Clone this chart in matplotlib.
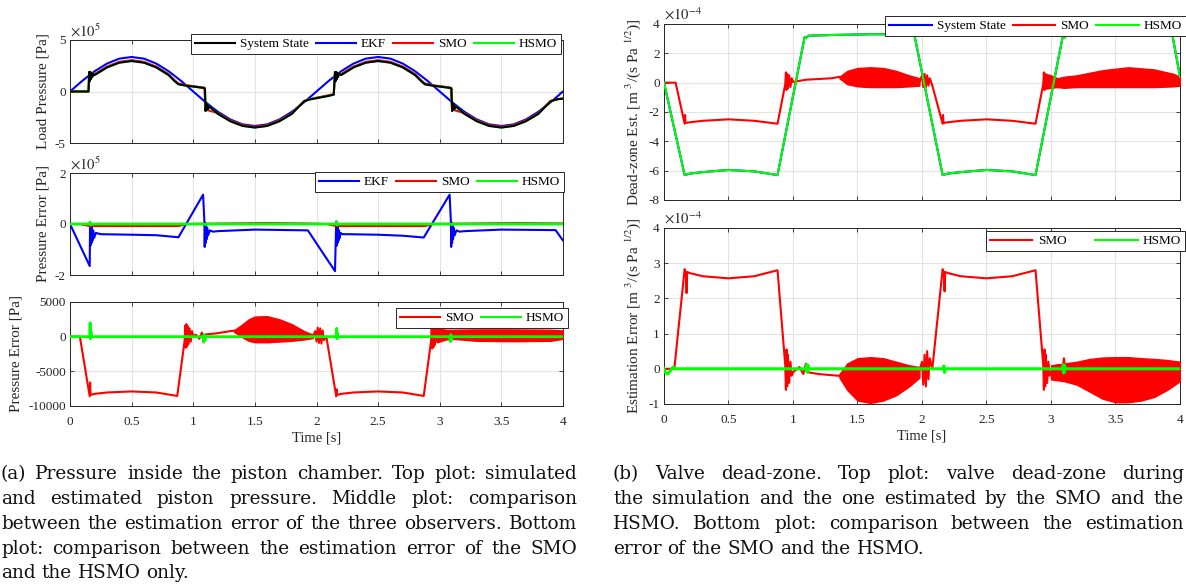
import numpy as np
import matplotlib
matplotlib.use('Agg')
import matplotlib.pyplot as plt
from matplotlib.lines import Line2D

plt.rcParams['font.family'] = ['Liberation Serif', 'DejaVu Serif']
plt.rcParams['mathtext.fontset'] = 'stix'
plt.rcParams['axes.unicode_minus'] = False

W, H = 1186, 587

# ------------------------------------------------------------------ data
XTICKS = [0, 0.5, 1, 1.5, 2, 2.5, 3, 3.5, 4]
XTICK_LABELS = ['0', '0.5', '1', '1.5', '2', '2.5', '3', '3.5', '4']

# (a) top : load pressure  [x1e5 Pa]
T_EKF_LOAD = [0.0, 0.1, 0.2, 0.3, 0.4, 0.5, 0.6, 0.7, 0.8, 0.9, 1.0,
              1.1, 1.2, 1.3, 1.4, 1.5, 1.6, 1.7, 1.8, 1.9, 2.0,
              2.1, 2.2, 2.3, 2.4, 2.5, 2.6, 2.7, 2.8, 2.9, 3.0,
              3.1, 3.2, 3.3, 3.4, 3.5, 3.6, 3.7, 3.8, 3.9, 4.0]
EKF_LOAD = [0.0, 1.04, 1.97, 2.71, 3.19, 3.35, 3.19, 2.71, 1.97, 1.04, 0.0,
            -1.04, -1.97, -2.71, -3.19, -3.35, -3.19, -2.71, -1.97, -1.04, 0.0,
            1.04, 1.97, 2.71, 3.19, 3.35, 3.19, 2.71, 1.97, 1.04, 0.0,
            -1.04, -1.97, -2.71, -3.19, -3.35, -3.19, -2.71, -1.97, -1.04, 0.0]

STATE_LOAD = [(0, 0), (0.15, 0), (0.155, 1.9), (0.16, 1.0), (0.165, 1.9), (0.17, 1.2),
              (0.175, 1.8), (0.18, 1.4), (0.19, 1.7), (0.2, 1.6), (0.3, 2.34), (0.4, 2.8),
              (0.5, 2.96), (0.6, 2.8), (0.7, 2.34), (0.8, 1.6), (0.85, 1.0), (0.88, 0.7),
              (0.95, 0.55), (1.0, 0.48), (1.08, 0.35), (1.095, 0.3), (1.1, -1.9), (1.105, -1.1),
              (1.11, -1.8), (1.115, -1.3), (1.12, -1.7), (1.13, -1.45), (1.15, -1.65),
              (1.2, -2.17), (1.3, -2.88), (1.4, -3.34), (1.5, -3.5), (1.6, -3.34), (1.7, -2.88),
              (1.8, -2.17), (1.85, -1.55), (1.9, -0.95), (1.95, -0.75), (2.0, -0.65),
              (2.1, -0.42), (2.14, -0.3), (2.15, 1.9), (2.155, 1.0), (2.16, 1.9), (2.165, 1.2),
              (2.17, 1.8), (2.175, 1.4), (2.18, 1.7), (2.2, 1.6), (2.3, 2.34), (2.4, 2.8),
              (2.5, 2.96), (2.6, 2.8), (2.7, 2.34), (2.8, 1.6), (2.85, 1.0), (2.88, 0.7),
              (2.95, 0.55), (3.0, 0.48), (3.08, 0.35), (3.095, 0.3), (3.1, -1.9), (3.105, -1.1),
              (3.11, -1.8), (3.115, -1.3), (3.12, -1.7), (3.13, -1.45), (3.15, -1.65),
              (3.2, -2.17), (3.3, -2.88), (3.4, -3.34), (3.5, -3.5), (3.6, -3.34), (3.7, -2.88),
              (3.8, -2.17), (3.85, -1.55), (3.9, -0.95), (3.95, -0.75), (4.0, -0.7)]
SMO_LOAD = [(0, 0), (0.15, 0), (0.16, 1.75), (0.2, 1.7), (0.3, 2.42), (0.4, 2.88),
            (0.5, 3.04), (0.6, 2.88), (0.7, 2.42), (0.8, 1.68), (0.85, 1.08), (0.88, 0.78),
            (0.95, 0.6), (1.0, 0.52), (1.09, 0.38), (1.1, -1.75), (1.2, -2.1), (1.3, -2.8),
            (1.4, -3.26), (1.5, -3.42), (1.6, -3.26), (1.7, -2.8), (1.8, -2.1), (1.85, -1.5),
            (1.9, -0.9), (2.0, -0.6), (2.14, -0.26), (2.15, 1.75), (2.2, 1.7), (2.3, 2.42),
            (2.4, 2.88), (2.5, 3.04), (2.6, 2.88), (2.7, 2.42), (2.8, 1.68), (2.85, 1.08),
            (2.88, 0.78), (2.95, 0.6), (3.0, 0.52), (3.09, 0.38), (3.1, -1.75), (3.2, -2.1),
            (3.3, -2.8), (3.4, -3.26), (3.5, -3.42), (3.6, -3.26), (3.7, -2.8), (3.8, -2.1),
            (3.85, -1.5), (3.9, -0.9), (4.0, -0.65)]
HSMO_LOAD = STATE_LOAD

# (a) middle : pressure error  [x1e5 Pa]
EKF_ERR = [(0, 0), (0.16, -1.65), (0.163, 0.05), (0.166, -0.85), (0.17, -0.05), (0.174, -0.75),
           (0.178, -0.15), (0.182, -0.65), (0.188, -0.25), (0.195, -0.55), (0.21, -0.35),
           (0.25, -0.4), (0.5, -0.42), (0.7, -0.44), (0.88, -0.52), (1.08, 1.15), (1.09, 0.12),
           (1.093, -0.9), (1.097, 0.05), (1.1, -0.75), (1.104, -0.05), (1.108, -0.6),
           (1.113, -0.15), (1.12, -0.45), (1.135, -0.25), (1.16, -0.3), (1.2, -0.28),
           (1.5, -0.22), (1.93, -0.25), (2.15, -1.85), (2.16, 0.1), (2.163, -0.85),
           (2.166, -0.05), (2.17, -0.75), (2.174, -0.15), (2.178, -0.65), (2.182, -0.25),
           (2.188, -0.55), (2.195, -0.35), (2.21, -0.4), (2.25, -0.4), (2.5, -0.42),
           (2.7, -0.46), (2.87, -0.53), (3.08, 1.15), (3.09, 0.12), (3.093, -0.9),
           (3.097, 0.05), (3.1, -0.75), (3.104, -0.05), (3.108, -0.6), (3.113, -0.15),
           (3.12, -0.45), (3.135, -0.25), (3.16, -0.3), (3.2, -0.28), (3.5, -0.22),
           (3.94, -0.24), (4.0, -0.65)]
SMO_ERR = [(0, 0), (0.08, 0), (0.16, -0.08), (0.88, -0.08), (0.95, 0), (1.3, 0.02), (1.6, 0.04),
           (1.9, 0.02), (2.08, 0), (2.16, -0.08), (2.88, -0.08), (2.95, 0), (3.3, 0.02),
           (3.6, 0.04), (4.0, 0.02)]
HSMO_ERR = [(0, 0), (0.16, 0), (0.162, 0.08), (0.165, -0.02), (0.2, 0), (1.09, 0), (1.1, -0.03),
            (1.12, 0), (2.16, 0), (2.162, 0.08), (2.165, -0.02), (2.2, 0), (3.09, 0),
            (3.1, -0.03), (3.12, 0), (4, 0)]

# (a) bottom : SMO / HSMO pressure error [Pa]
SMO_ERR2 = [(0, 0), (0.08, 0), (0.16, -8600), (0.163, -6600), (0.167, -8400), (0.2, -8250),
            (0.3, -8050), (0.5, -7900), (0.7, -8050), (0.87, -8550), (0.93, -600),
            (0.935, 1600), (0.94, -1600), (0.945, 1800), (0.95, -1400), (0.955, 1500),
            (0.96, -1100), (0.97, 1200), (0.98, -700), (0.99, 800), (1.0, 0), (1.02, 300),
            (1.05, -300), (1.07, 600), (1.08, -400), (1.09, 300), (1.2, 500), (1.3, 800),
            (1.35, 900), (1.97, 0), (1.99, 800), (2.0, -700), (2.01, 1300), (2.02, -900),
            (2.03, 1200), (2.04, -1000), (2.05, 900), (2.06, -500), (2.08, 0), (2.16, -8600),
            (2.163, -7600), (2.167, -8400), (2.2, -8250), (2.3, -8050), (2.5, -7900),
            (2.7, -8050), (2.87, -8550), (2.93, -600), (2.935, 1600), (2.94, -1700),
            (2.945, 2000), (2.95, -1500), (2.955, 1800), (2.96, -1200), (2.97, 1400),
            (2.98, -800), (2.99, 1000), (3.0, 0), (3.05, 300), (3.1, 100), (3.5, 200),
            (4.0, 200)]
SMO_BAND1_T = [1.33, 1.4, 1.45, 1.5, 1.6, 1.7, 1.8, 1.9, 1.97]
SMO_BAND1_HI = [900, 1800, 2500, 2900, 2950, 2500, 1800, 800, 300]
SMO_BAND1_LO = [700, -100, -600, -800, -800, -700, -600, -400, -200]
SMO_BAND2_T = [2.98, 3.05, 3.1, 3.3, 3.6, 3.9, 4.0]
SMO_BAND2_HI = [1200, 1000, 1000, 1050, 1050, 1000, 900]
SMO_BAND2_LO = [-800, -400, -300, -600, -650, -600, -300]
HSMO_ERR2 = [(0, 0), (0.16, 0), (0.163, 2000), (0.166, -300), (0.17, 800), (0.175, 0),
             (1.08, 0), (1.085, -800), (1.09, 300), (1.095, -500), (1.1, 0), (2.16, 0),
             (2.163, 1200), (2.166, -300), (2.17, 500), (2.175, 0), (3.08, 0), (3.085, -700),
             (3.09, 300), (3.095, -500), (3.1, 0), (4, 0)]

# (b) top : dead-zone estimate [x1e-4]
HSMO_DZ = [(0, 0), (0.16, -6.3), (0.2, -6.2), (0.3, -6.1), (0.5, -5.95), (0.7, -6.05),
           (0.88, -6.3), (1.09, 3.1), (1.1, 3.05), (1.12, 3.2), (1.3, 3.25), (1.6, 3.3),
           (1.94, 3.3), (2.16, -6.3), (2.2, -6.2), (2.3, -6.1), (2.5, -5.95), (2.7, -6.05),
           (2.88, -6.3), (3.09, 3.1), (3.1, 3.05), (3.12, 3.2), (3.3, 3.25), (3.6, 3.3),
           (3.94, 3.3), (4.0, 0.4)]
STATE_DZ = HSMO_DZ
SMO_DZ = [(0, 0), (0.09, 0), (0.16, -2.8), (0.163, -2.2), (0.167, -2.75), (0.2, -2.7),
          (0.3, -2.6), (0.5, -2.5), (0.7, -2.6), (0.88, -2.8), (0.94, -0.1), (0.945, 0.7),
          (0.95, -0.5), (0.955, 0.6), (0.96, -0.4), (0.97, 0.5), (0.98, -0.3), (0.99, 0.3),
          (1.0, 0.05), (1.1, 0.2), (1.2, 0.25), (1.3, 0.3), (1.36, 0.4), (1.98, 0.0),
          (2.0, 0.5), (2.01, -0.3), (2.02, 0.6), (2.03, -0.3), (2.04, 0.5), (2.05, -0.2),
          (2.06, 0.3), (2.08, -0.2), (2.16, -2.8), (2.163, -2.2), (2.167, -2.75), (2.2, -2.7),
          (2.3, -2.6), (2.5, -2.5), (2.7, -2.6), (2.88, -2.8), (2.94, -0.1), (2.945, 0.7),
          (2.95, -0.5), (2.955, 0.6), (2.96, -0.4), (2.97, 0.5), (2.98, -0.3), (2.99, 0.3),
          (3.0, 0.05), (3.5, 0.3), (4.0, 0.1)]
SMO_DZ_BAND1_T = [1.36, 1.42, 1.5, 1.6, 1.7, 1.8, 1.9, 1.98]
SMO_DZ_BAND1_HI = [0.4, 0.8, 1.0, 1.05, 1.0, 0.8, 0.5, 0.3]
SMO_DZ_BAND1_LO = [0.3, -0.1, -0.25, -0.3, -0.3, -0.3, -0.25, -0.2]
SMO_DZ_BAND2_T = [2.96, 3.0, 3.05, 3.1, 3.2, 3.4, 3.6, 3.8, 3.95, 4.0]
SMO_DZ_BAND2_HI = [0.6, 0.5, 0.3, 0.4, 0.5, 0.85, 1.05, 0.9, 0.6, 0.4]
SMO_DZ_BAND2_LO = [-0.4, -0.35, -0.3, -0.35, -0.3, -0.3, -0.3, -0.3, -0.25, -0.2]

# (b) bottom : estimation error [x1e-4]
SMO_DZ_ERR = [(0, 0), (0.08, 0), (0.16, 2.83), (0.17, 2.7), (0.175, 2.15), (0.18, 2.75),
              (0.2, 2.72), (0.3, 2.63), (0.5, 2.57), (0.7, 2.63), (0.88, 2.8), (0.94, 0.1),
              (0.945, -0.6), (0.95, 0.55), (0.955, -0.5), (0.96, 0.4), (0.97, -0.4),
              (0.98, 0.2), (0.99, -0.2), (1.0, -0.1), (1.05, 0.05), (1.08, -0.15), (1.1, 0.15),
              (1.12, -0.1), (1.2, -0.15), (1.36, -0.2), (1.98, -0.05), (2.0, 0.2),
              (2.01, -0.45), (2.02, 0.4), (2.03, -0.5), (2.04, 0.5), (2.05, -0.3), (2.06, 0.3),
              (2.08, 0.0), (2.16, 2.83), (2.17, 2.7), (2.175, 2.2), (2.18, 2.75), (2.2, 2.72),
              (2.3, 2.63), (2.5, 2.57), (2.7, 2.63), (2.88, 2.8), (2.94, 0.1), (2.945, -0.6),
              (2.95, 0.55), (2.955, -0.5), (2.96, 0.4), (2.97, -0.4), (2.98, 0.2),
              (2.99, -0.2), (3.0, -0.1), (3.05, 0.1), (3.08, -0.3), (3.1, 0.3), (3.12, -0.2),
              (3.2, -0.1), (3.5, -0.2), (4.0, -0.1)]
SMO_ERR_BAND1_T = [1.36, 1.42, 1.5, 1.6, 1.7, 1.8, 1.9, 1.98]
SMO_ERR_BAND1_HI = [-0.15, 0.15, 0.3, 0.33, 0.3, 0.2, 0.1, 0.05]
SMO_ERR_BAND1_LO = [-0.25, -0.6, -0.9, -0.97, -0.9, -0.75, -0.5, -0.25]
SMO_ERR_BAND2_T = [3.0, 3.1, 3.2, 3.3, 3.4, 3.5, 3.6, 3.7, 3.8, 3.9, 4.0]
SMO_ERR_BAND2_HI = [0.1, 0.15, 0.2, 0.28, 0.32, 0.33, 0.33, 0.3, 0.28, 0.25, 0.2]
SMO_ERR_BAND2_LO = [-0.3, -0.35, -0.45, -0.65, -0.85, -0.95, -0.95, -0.9, -0.8, -0.6, -0.35]
HSMO_DZ_ERR = [(0, 0), (0.01, -0.1), (0.03, -0.15), (0.05, -0.05), (0.07, 0.05), (0.09, 0.0),
               (1.1, 0), (1.105, 0.12), (1.11, -0.1), (1.115, 0.1), (1.12, 0), (2.16, 0),
               (2.17, 0.08), (2.175, -0.1), (2.18, 0), (3.09, 0), (3.095, 0.12), (3.1, -0.12),
               (3.105, 0.1), (3.11, 0), (4, 0)]

CAPTION_A = ["(a) Pressure inside the piston chamber. Top plot: simulated",
             "and estimated piston pressure.  Middle plot: comparison",
             "between the estimation error of the three observers. Bottom",
             "plot: comparison between the estimation error of the SMO",
             "and the HSMO only."]
CAPTION_B = ["(b) Valve dead-zone.  Top plot:  valve dead-zone during",
             "the simulation and the one estimated by the SMO and the",
             "HSMO. Bottom plot: comparison between the estimation",
             "error of the SMO and the HSMO."]

BLUE, RED, GREEN, BLACK = '#0000ff', '#ff0000', '#00ff00', '#000000'
AXC = '#262626'

# ------------------------------------------------------------------ figure
fig = plt.figure(figsize=(W / 100, H / 100), dpi=100)


def add_ax(l, t, r, b):
    return fig.add_axes([l / W, 1 - b / H, (r - l) / W, (b - t) / H])


def style(ax, yticks, ylim, xlabels):
    ax.set_xlim(0, 4)
    ax.set_ylim(*ylim)
    ax.set_xticks(XTICKS)
    ax.set_yticks(yticks)
    ax.grid(True, color='#e3e3e3', lw=0.8)
    ax.set_axisbelow(True)
    ax.tick_params(direction='in', length=3, top=True, right=True, labelsize=9.5,
                   colors=AXC, width=0.6, pad=3)
    ax.tick_params(axis='x', pad=7)
    for s in ax.spines.values():
        s.set_linewidth(0.7)
        s.set_color(AXC)
    if xlabels:
        ax.set_xticklabels(XTICK_LABELS)
        ax.set_xlabel('Time [s]', fontsize=10.5, color=AXC, labelpad=3)
    else:
        ax.set_xticklabels([])


def xy(pairs):
    return [p[0] for p in pairs], [p[1] for p in pairs]


def legend(ax, handles, labels, right_px, top_px, colsp=0.55, hl=3.2):
    leg = ax.legend(handles, labels, loc='upper right',
                    bbox_to_anchor=(right_px / W, 1 - top_px / H),
                    bbox_transform=fig.transFigure, ncol=len(labels), fontsize=9.5,
                    frameon=True, fancybox=False, edgecolor=AXC, framealpha=1,
                    borderaxespad=0, handlelength=hl, handletextpad=0.4,
                    columnspacing=colsp, borderpad=0.3)
    leg.get_frame().set_linewidth(0.7)
    leg.set_zorder(20)
    return leg


def expo(ax, txt):
    ax.text(0.0, 1.005, txt, transform=ax.transAxes, fontsize=10.5, ha='left',
            va='bottom', color=AXC)


LW = 1.5
H_STATE = Line2D([], [], color=BLACK, lw=LW)
H_EKF = Line2D([], [], color=BLUE, lw=LW)
H_SMO = Line2D([], [], color=RED, lw=LW)
H_HSMO = Line2D([], [], color=GREEN, lw=LW)
H_STATE_B = Line2D([], [], color=BLUE, lw=LW)

# ---- (a) top
ax1 = add_ax(70, 40, 563, 143)
ax1.plot(T_EKF_LOAD, EKF_LOAD, color=BLUE, lw=LW, zorder=3)
ax1.plot(*xy(SMO_LOAD), color=RED, lw=LW, zorder=4)
ax1.plot(*xy(HSMO_LOAD), color=GREEN, lw=LW, zorder=5)
ax1.plot(*xy(STATE_LOAD), color=BLACK, lw=LW, zorder=6)
style(ax1, [-5, 0, 5], (-5, 5), False)
ax1.set_ylabel('Load Pressure [Pa]', fontsize=11, color=AXC)
expo(ax1, r'$\times10^{5}$')
legend(ax1, [H_STATE, H_EKF, H_SMO, H_HSMO], ['System State', 'EKF', 'SMO', 'HSMO'], 561, 34,
       hl=3.0)

# ---- (a) middle
ax2 = add_ax(70, 173, 563, 275)
ax2.plot(*xy(EKF_ERR), color=BLUE, lw=LW, zorder=3)
ax2.plot(*xy(SMO_ERR), color=RED, lw=LW, zorder=4)
ax2.plot(*xy(HSMO_ERR), color=GREEN, lw=2.0, zorder=5)
style(ax2, [-2, 0, 2], (-2, 2), False)
ax2.set_ylabel('Pressure Error [Pa]', fontsize=11, color=AXC)
expo(ax2, r'$\times10^{5}$')
legend(ax2, [H_EKF, H_SMO, H_HSMO], ['EKF', 'SMO', 'HSMO'], 564, 172, hl=3.0)

# ---- (a) bottom
ax3 = add_ax(70, 302, 563, 406)
ax3.plot(*xy(SMO_ERR2), color=RED, lw=LW, zorder=3)
ax3.fill_between(SMO_BAND1_T, SMO_BAND1_LO, SMO_BAND1_HI, color=RED, lw=1, zorder=3)
ax3.fill_between(SMO_BAND2_T, SMO_BAND2_LO, SMO_BAND2_HI, color=RED, lw=1, zorder=3)
ax3.plot(*xy(HSMO_ERR2), color=GREEN, lw=2.0, zorder=5)
style(ax3, [-10000, -5000, 0, 5000], (-10000, 5000), True)
ax3.set_ylabel('Pressure Error [Pa]', fontsize=11, color=AXC)
legend(ax3, [H_SMO, H_HSMO], ['SMO', 'HSMO'], 568, 308, hl=3.0)

# ---- (b) top
ax4 = add_ax(664, 24, 1180, 200)
ax4.plot(*xy(STATE_DZ), color=BLUE, lw=LW, zorder=3)
ax4.plot(*xy(SMO_DZ), color=RED, lw=LW, zorder=4)
ax4.fill_between(SMO_DZ_BAND1_T, SMO_DZ_BAND1_LO, SMO_DZ_BAND1_HI, color=RED, lw=1, zorder=4)
ax4.fill_between(SMO_DZ_BAND2_T, SMO_DZ_BAND2_LO, SMO_DZ_BAND2_HI, color=RED, lw=1, zorder=4)
ax4.plot(*xy(HSMO_DZ), color=GREEN, lw=LW, zorder=5)
style(ax4, [-8, -6, -4, -2, 0, 2, 4], (-8, 4), False)
ax4.set_ylabel(r'Dead-zone Est. [m $^{3}$/(s Pa $^{1/2}$)]', fontsize=11, color=AXC)
expo(ax4, r'$\times10^{-4}$')
legend(ax4, [H_STATE_B, H_SMO, H_HSMO], ['System State', 'SMO', 'HSMO'], 1186, 16)

# ---- (b) bottom
ax5 = add_ax(664, 228, 1180, 404)
ax5.plot(*xy(SMO_DZ_ERR), color=RED, lw=LW, zorder=3)
ax5.fill_between(SMO_ERR_BAND1_T, SMO_ERR_BAND1_LO, SMO_ERR_BAND1_HI, color=RED, lw=1, zorder=3)
ax5.fill_between(SMO_ERR_BAND2_T, SMO_ERR_BAND2_LO, SMO_ERR_BAND2_HI, color=RED, lw=1, zorder=3)
ax5.plot(*xy(HSMO_DZ_ERR), color=GREEN, lw=2.2, zorder=5)
style(ax5, [-1, 0, 1, 2, 3, 4], (-1, 4), True)
ax5.set_ylabel(r'Estimation Error [m $^{3}$/(s Pa $^{1/2}$)]', fontsize=11, color=AXC)
expo(ax5, r'$\times10^{-4}$')
legend(ax5, [H_SMO, H_HSMO], ['SMO', 'HSMO'], 1185, 231, colsp=2.2)

# ------------------------------------------------------------------ captions
renderer = fig.canvas.get_renderer()
CAP_FS = 13.3
CAP_FONT = ['DejaVu Serif']
BASELINES = [479, 504, 529, 554, 578.5]


def caption_line(text, x0, x1, ybase, justify):
    words = text.split()
    objs = [fig.text(0, 1 - ybase / H, w, fontsize=CAP_FS, family=CAP_FONT, ha='left',
                     va='baseline', color='#111111') for w in words]
    widths = [o.get_window_extent(renderer).width for o in objs]
    if justify and len(words) > 1:
        gap = (x1 - x0 - sum(widths)) / (len(words) - 1)
    else:
        gap = CAP_FS * 100 / 72 * 0.32
    x = x0
    for o, w in zip(objs, widths):
        o.set_x(x / W)
        x += w + gap


for i, line in enumerate(CAPTION_A):
    caption_line(line, 1, 577, BASELINES[i], i < len(CAPTION_A) - 1)
for i, line in enumerate(CAPTION_B):
    caption_line(line, 613, 1184, BASELINES[i], i < len(CAPTION_B) - 1)

fig.savefig('out.png', dpi=100)
